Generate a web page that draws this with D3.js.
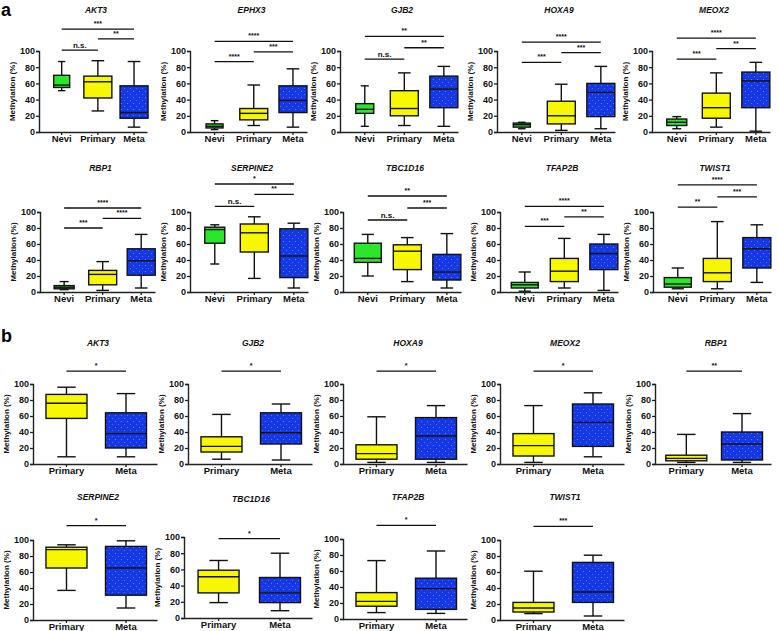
<!DOCTYPE html>
<html><head><meta charset="utf-8">
<script src="https://cdn.jsdelivr.net/npm/d3@7"></script>
<style>body{margin:0;background:#fff}svg{display:block}text{font-family:"Liberation Sans",Arial,sans-serif}</style>
</head><body><svg id="c" width="778" height="631"></svg>
<script>
// ---------- DATA ----------
const groupsA = ["Nevi", "Primary", "Meta"];
const groupsB = ["Primary", "Meta"];
const yTicks = [0, 20, 40, 60, 80, 100];

const genesA = ["AKT3","EPHX3","GJB2","HOXA9","MEOX2","RBP1","SERPINE2","TBC1D16","TFAP2B","TWIST1"];
// [min, q1, median, q3, max]
const neviA = [
  [51,55,58,70,87],[3,5,7,10,14],[7,23,28,35,57],[4,6,9,11,12],[4,8,12,16,19],
  [3,4,6,8,13],[35,61,78,81,84],[20,37,42,61,72],[1,5,9,12,25],[4,6,10,18,30]
];
const primaryA = [
  [26,42,62,69,88],[8,15,23,29,58],[8,20,29,51,73],[2,10,20,38,59],[6,17,30,48,73],
  [2,9,22,27,38],[17,50,74,85,94],[13,28,51,59,68],[5,13,26,42,67],[4,13,24,42,88]
];
const metaA = [
  [6,17,24,57,87],[6,24,39,57,78],[7,30,53,69,81],[4,19,49,60,81],[1,30,63,74,86],
  [5,21,39,54,72],[5,18,45,79,86],[5,15,25,47,73],[2,28,48,60,72],[12,30,54,68,84]
];
// significance labels: [Nevi-Primary, Primary-Meta, Nevi-Meta]
const sigLabelsA = [
  ["n.s.","**","***"],["****","***","****"],["n.s.","**","**"],["***","***","****"],["***","**","****"],
  ["***","****","****"],["n.s.","**","*"],["n.s.","***","**"],["***","**","****"],["**","***","****"]
];
// bar heights in data units
const sigLevelsA = [
  [101,115,127],[87,99,112],[90,104,118],[86,98,111],[90,103,116],
  [80,92,105],[107,122,135],[90,105,120],[82,94,107],[106,119,134]
];

const genesB = ["AKT3","GJB2","HOXA9","MEOX2","RBP1","SERPINE2","TBC1D16","TFAP2B","TWIST1"];
const primaryB = [
  [9,57,76,87,96],[6,15,22,34,62],[2,6,13,24,59],[2,10,23,38,73],[2,4,7,11,37],
  [37,65,88,91,94],[19,31,51,59,71],[8,16,22,33,73],[8,10,15,22,61]
];
const metaB = [
  [9,20,38,64,88],[5,25,39,64,75],[2,6,35,58,73],[9,22,52,75,89],[2,5,25,40,63],
  [15,31,65,92,99],[9,19,31,50,80],[7,12,38,51,85],[5,22,35,72,81]
];
const sigLabelsB = ["*","*","*","*","**","*","*","*","***"];
const sigLevelsB = [116,116,116,116,116,118,98,117,117];

// ---------- LAYOUT ----------
const layoutA = [
  {x:39,top:51,bot:132,w:108,nw:16,ty:13},{x:190,top:51,bot:132,w:117,nw:17,ty:13},{x:340,top:51,bot:132,w:118,nw:18,ty:13},
  {x:497,top:51,bot:132,w:118,nw:17,ty:13},{x:652,top:51,bot:132,w:118,nw:20,ty:13},
  {x:40,top:212,bot:292,w:115,nw:20,ty:171},{x:190,top:212,bot:292,w:118,nw:20,ty:171},{x:343,top:212,bot:292,w:118,nw:27,ty:171},
  {x:500,top:212,bot:292,w:118,nw:27,ty:171},{x:653,top:212,bot:292,w:118,nw:27,ty:171}
];
const layoutB = [
  {x:33,top:384,bot:464,w:124,ty:346},{x:188,top:384,bot:464,w:124,ty:346},{x:343,top:384,bot:464,w:124,ty:346},
  {x:500,top:384,bot:464,w:124,ty:346},{x:655,top:384,bot:464,w:116,ty:346},
  {x:33,top:540,bot:620,w:124,ty:500},{x:184,top:537,bot:618,w:128,ty:502},{x:343,top:539,bot:619,w:124,ty:500},
  {x:500,top:540,bot:620,w:124,ty:500}
];
const colors = {Nevi:"#2ce62c", Primary:"#f7f700", Meta:"#1538e6"};

const svg = d3.select("#c");
const defs = svg.append("defs");
const pat = defs.append("pattern").attr("id","dots").attr("patternUnits","userSpaceOnUse")
  .attr("width",6).attr("height",6);
pat.append("rect").attr("width",6).attr("height",6).attr("fill",colors.Meta);
pat.append("circle").attr("cx",1.5).attr("cy",1.5).attr("r",0.6).attr("fill","#6f86f5");
pat.append("circle").attr("cx",4.5).attr("cy",4.5).attr("r",0.6).attr("fill","#5a74f0");

function drawPanel(L, gene, groups, series, fracs, boxW, sigs) {
  const g = svg.append("g");
  const y = d3.scaleLinear().domain([0,100]).range([L.bot, L.top]);
  const x = d3.scalePoint().domain(groups).range([L.x + L.w*fracs[0], L.x + L.w*fracs[1]]);
  const ax = g.append("g").attr("transform",`translate(${L.x},0)`)
    .call(d3.axisLeft(y).tickValues(yTicks).tickSize(3).tickPadding(1).tickFormat(d3.format("d")));
  ax.select(".domain").attr("stroke","#222").attr("stroke-width",1.4);
  ax.selectAll(".tick line").attr("stroke","#222").attr("stroke-width",1.3);
  ax.selectAll(".tick text").attr("fill","#111").style("font-size","9px").style("font-weight","bold");
  const bx = g.append("g").attr("transform",`translate(0,${L.bot})`)
    .call(d3.axisBottom(d3.scaleLinear().domain([0,1]).range([L.x, L.x+L.w])).tickValues([]).tickSize(0));
  bx.select(".domain").attr("stroke","#222").attr("stroke-width",1.4);
  groups.forEach(k => {
    g.append("line").attr("x1",x(k)).attr("x2",x(k)).attr("y1",L.bot).attr("y2",L.bot+3)
      .attr("stroke","#222").attr("stroke-width",1.3);
    g.append("text").attr("x",x(k)).attr("y",L.bot+10).attr("text-anchor","middle")
      .style("font-size","9.5px").style("font-weight","bold").attr("fill","#111").text(k);
  });
  g.append("text").attr("transform",`translate(${L.x-24},${(L.top+L.bot)/2}) rotate(-90)`)
    .attr("text-anchor","middle").style("font-size","8px").style("font-weight","bold").attr("fill","#111")
    .text("Methylation (%)");
  g.append("text").attr("x",L.x + L.w/2 + 3).attr("y",L.ty).attr("text-anchor","middle")
    .style("font-size","8.5px").style("font-style","italic").style("font-weight","bold").attr("fill","#111").text(gene);
  groups.forEach((k,i) => {
    const d = series[i]; const cx = x(k); const bw = boxW(k);
    const cap = bw*0.45;
    const s = "#111", sw = 1.4;
    g.append("line").attr("x1",cx).attr("x2",cx).attr("y1",y(d[0])).attr("y2",y(d[1])).attr("stroke",s).attr("stroke-width",sw);
    g.append("line").attr("x1",cx).attr("x2",cx).attr("y1",y(d[3])).attr("y2",y(d[4])).attr("stroke",s).attr("stroke-width",sw);
    g.append("line").attr("x1",cx-cap/2).attr("x2",cx+cap/2).attr("y1",y(d[0])).attr("y2",y(d[0])).attr("stroke",s).attr("stroke-width",sw);
    g.append("line").attr("x1",cx-cap/2).attr("x2",cx+cap/2).attr("y1",y(d[4])).attr("y2",y(d[4])).attr("stroke",s).attr("stroke-width",sw);
    g.append("rect").attr("x",cx-bw/2).attr("y",y(d[3])).attr("width",bw).attr("height",y(d[1])-y(d[3]))
      .attr("fill", k==="Meta" ? "url(#dots)" : colors[k]).attr("stroke",s).attr("stroke-width",sw);
    g.append("line").attr("x1",cx-bw/2).attr("x2",cx+bw/2).attr("y1",y(d[2])).attr("y2",y(d[2])).attr("stroke",s).attr("stroke-width",sw);
  });
  sigs.forEach(([a,b,lab,lev]) => {
    g.append("line").attr("x1",x(a)).attr("x2",x(b)).attr("y1",y(lev)).attr("y2",y(lev))
      .attr("stroke","#111").attr("stroke-width",1.3);
    g.append("text").attr("x",(x(a)+x(b))/2).attr("y",y(lev)-(lab==="n.s."?2:3)).attr("text-anchor","middle")
      .style("font-size", lab==="n.s." ? "8px" : "7px").style("font-weight","bold").attr("fill","#111").text(lab);
  });
}

genesA.forEach((gene,i) => {
  const L = layoutA[i];
  const sigs = [
    ["Nevi","Primary",sigLabelsA[i][0],sigLevelsA[i][0]],
    ["Primary","Meta",sigLabelsA[i][1],sigLevelsA[i][1]],
    ["Nevi","Meta",sigLabelsA[i][2],sigLevelsA[i][2]]
  ];
  drawPanel(L, gene, groupsA, [neviA[i],primaryA[i],metaA[i]], [0.21,0.88],
    k => k==="Nevi" ? L.nw : 28, sigs);
});
genesB.forEach((gene,i) => {
  const L = layoutB[i];
  drawPanel(L, gene, groupsB, [primaryB[i],metaB[i]], [0.27,0.75], k => 41,
    [["Primary","Meta",sigLabelsB[i],sigLevelsB[i]]]);
});

svg.append("text").attr("x",1).attr("y",16).style("font-size","18px").style("font-weight","bold").text("a");
svg.append("text").attr("x",1).attr("y",342).style("font-size","18px").style("font-weight","bold").text("b");
</script></body></html>
